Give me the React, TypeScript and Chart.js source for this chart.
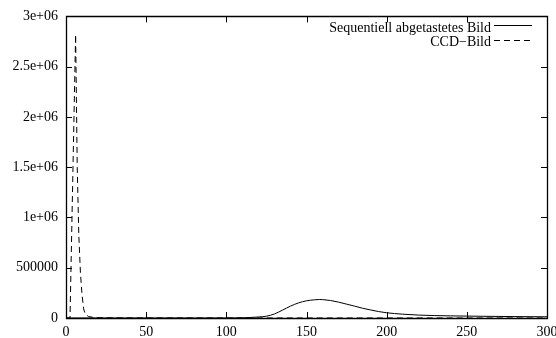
import React, { useEffect, useRef } from "react";
import { Chart, registerables } from "chart.js";

Chart.register(...registerables);

// Sequentiell abgetastetes Bild (solid)
const seqX = [0, 50, 100, 110, 115, 120, 125, 130, 135, 140, 145, 150, 155, 158, 160, 165, 170, 175, 180, 185, 190, 195, 200, 210, 220, 230, 240, 250, 260, 270, 280, 290, 300];
const seqY = [0, 0, 0, 2000, 5000, 10000, 18000, 40000, 78000, 118000, 150000, 171000, 181000, 184000, 183000, 174000, 158000, 138000, 118000, 97000, 80000, 64000, 52000, 38000, 29000, 24000, 21000, 19000, 17000, 15500, 14000, 13000, 12000];

// CCD−Bild (dashed)
const ccdX = [0, 2.5, 6, 7, 8, 9, 10, 11, 12, 14, 17, 20, 30, 50, 100, 150, 200, 250, 300];
const ccdY = [0, 0, 2820000, 1500000, 820000, 450000, 230000, 90000, 40000, 15000, 6000, 3000, 1500, 800, 400, 300, 200, 150, 100];

const xTicks = [0, 50, 100, 150, 200, 250, 300];
const yTicks = [0, 500000, 1000000, 1500000, 2000000, 2500000, 3000000];
const yTickLabels = ["0", "500000", "1e+06", "1.5e+06", "2e+06", "2.5e+06", "3e+06"];

const seriesNames = ["Sequentiell abgetastetes Bild", "CCD\u2212Bild"];

const FONT = '"Liberation Serif", "Times New Roman", serif';

const framePlugin = {
  id: "gnuframe",
  afterDatasetsDraw(chart: any) {
    const ctx = chart.ctx;
    const { left, right, top, bottom } = chart.chartArea;
    const xs = chart.scales.x;
    const ys = chart.scales.y;
    const tl = 6;
    ctx.save();
    ctx.strokeStyle = "#000";
    ctx.lineWidth = 1.3;
    ctx.setLineDash([]);
    ctx.beginPath();
    ctx.rect(Math.round(left) + 0.5, Math.round(top) + 0.5, Math.round(right - left), Math.round(bottom - top));
    ctx.stroke();
    ctx.lineWidth = 1;
    ctx.beginPath();
    xTicks.forEach((v) => {
      const px = Math.round(xs.getPixelForValue(v)) + 0.5;
      ctx.moveTo(px, bottom);
      ctx.lineTo(px, bottom - tl);
      ctx.moveTo(px, top);
      ctx.lineTo(px, top + tl);
    });
    yTicks.forEach((v) => {
      const py = Math.round(ys.getPixelForValue(v)) + 0.5;
      ctx.moveTo(left, py);
      ctx.lineTo(left + tl, py);
      ctx.moveTo(right, py);
      ctx.lineTo(right - tl, py);
    });
    ctx.stroke();

    // legend
    ctx.font = "14px " + FONT;
    ctx.fillStyle = "#000";
    ctx.textAlign = "right";
    ctx.textBaseline = "alphabetic";
    const baselines = [32, 45.5];
    const lineYs = [25.5, 40.5];
    seriesNames.forEach((name, i) => {
      ctx.fillText(name, 491, baselines[i]);
      ctx.beginPath();
      ctx.setLineDash(i === 0 ? [] : [6, 4]);
      ctx.moveTo(494, lineYs[i]);
      ctx.lineTo(532, lineYs[i]);
      ctx.stroke();
    });
    ctx.restore();
  },
};

export default function App() {
  const ref = useRef<HTMLCanvasElement>(null);
  useEffect(() => {
    document.body.style.margin = "0";
    const chart = new Chart(ref.current as HTMLCanvasElement, {
      type: "line",
      data: {
        datasets: [
          {
            label: seriesNames[0],
            data: seqX.map((x, i) => ({ x, y: seqY[i] })),
            borderColor: "#000",
            borderWidth: 1,
            pointRadius: 0,
            cubicInterpolationMode: "monotone",
            fill: false,
          },
          {
            label: seriesNames[1],
            data: ccdX.map((x, i) => ({ x, y: ccdY[i] })),
            borderColor: "#000",
            borderWidth: 1,
            borderDash: [6, 4],
            pointRadius: 0,
            tension: 0,
            fill: false,
          },
        ],
      },
      options: {
        animation: false,
        responsive: false,
        devicePixelRatio: 1,
        layout: { padding: { top: 14, right: 9, left: 0, bottom: 0 } },
        plugins: { legend: { display: false }, tooltip: { enabled: false } },
        scales: {
          x: {
            type: "linear",
            min: 0,
            max: 300,
            grid: { display: false, drawTicks: false },
            border: { display: false },
            afterFit: (s: any) => {
              s.height = 20;
              s.paddingRight = 0;
              s.paddingLeft = 0;
            },
            afterBuildTicks: (s: any) => {
              s.ticks = xTicks.map((v) => ({ value: v }));
            },
            ticks: {
              color: "#000",
              font: { family: FONT, size: 14 },
              padding: 6,
              maxRotation: 0,
              autoSkip: false,
            },
          },
          y: {
            type: "linear",
            min: 0,
            max: 3000000,
            grid: { display: false, drawTicks: false },
            border: { display: false },
            afterFit: (s: any) => {
              s.width = 66;
            },
            afterBuildTicks: (s: any) => {
              s.ticks = yTicks.map((v) => ({ value: v }));
            },
            ticks: {
              color: "#000",
              font: { family: FONT, size: 14 },
              padding: 8,
              autoSkip: false,
              callback: (v: any) => {
                const i = yTicks.indexOf(Number(v));
                return i >= 0 ? yTickLabels[i] : "";
              },
            },
          },
        },
      },
      plugins: [framePlugin],
    });
    return () => chart.destroy();
  }, []);
  return (
    <div style={{ width: 556, height: 338, background: "#fff" }}>
      <canvas ref={ref} width={556} height={338} style={{ display: "block" }} />
    </div>
  );
}
